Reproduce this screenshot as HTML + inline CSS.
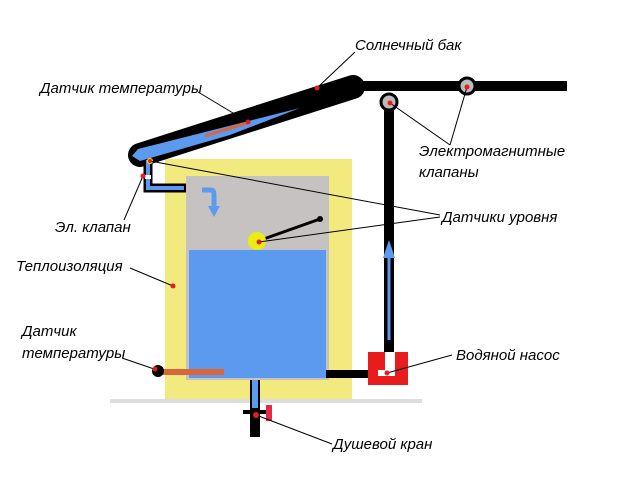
<!DOCTYPE html>
<html><head><meta charset="utf-8"><style>
html,body{margin:0;padding:0;background:#fff;}
svg{display:block;}
text{font-family:"Liberation Sans",sans-serif;font-style:italic;font-size:15px;fill:#000;}
</style></head><body>
<svg width="640" height="480" viewBox="0 0 640 480" xmlns="http://www.w3.org/2000/svg">
<rect x="110" y="399" width="312" height="4" fill="#ddd"/>
<rect x="165" y="159" width="187" height="240" fill="#f2ea7e"/>
<rect x="186" y="176" width="143" height="204" fill="#c7c2c2"/>
<rect x="189" y="250" width="137" height="128" fill="#5b9aee"/>
<!-- pipes -->
<rect x="355" y="81" width="212" height="10" fill="#000"/>
<rect x="384" y="95" width="10" height="282" fill="#000"/>
<rect x="326" y="370" width="46" height="8" fill="#000"/>
<line x1="389" y1="340" x2="389" y2="255" stroke="#5b9aee" stroke-width="3"/>
<polygon points="389,240 383,258 395,258" fill="#5b9aee"/>
<!-- pump -->
<rect x="368" y="352" width="40" height="33" fill="#e81c1c"/>
<rect x="385" y="352" width="10" height="24" fill="#fff"/>
<rect x="378" y="370" width="17" height="6" fill="#fff"/>
<!-- collector -->
<line x1="140" y1="155" x2="353" y2="87" stroke="#000" stroke-width="24" stroke-linecap="round"/>
<polygon points="138,149 300,108 230,135 140,161 132,156" fill="#5b9aee"/>
<line x1="205" y1="136" x2="247" y2="123" stroke="#d9653a" stroke-width="3"/>
<!-- valves -->
<circle cx="389" cy="102" r="8" fill="#bbb" stroke="#000" stroke-width="3"/>
<circle cx="467" cy="86" r="8" fill="#bbb" stroke="#000" stroke-width="3"/>
<!-- inlet L -->
<path d="M148,160 V188 H186" fill="none" stroke="#000" stroke-width="9"/>
<path d="M148,160 V188 H184" fill="none" stroke="#5b9aee" stroke-width="4"/>
<rect x="145" y="175" width="6" height="4" fill="#fff"/>
<path d="M202,190 H211 Q214,190 214,195 V208" fill="none" stroke="#5b9aee" stroke-width="5"/>
<polygon points="208,206 220,206 214,217" fill="#5b9aee"/>
<!-- level sensor -->
<line x1="258" y1="241" x2="320" y2="219" stroke="#000" stroke-width="3"/>
<circle cx="320" cy="219" r="3" fill="#000"/>
<circle cx="257" cy="241" r="9" fill="#ecec10"/>
<circle cx="150" cy="161" r="3" fill="#ecec10"/>
<!-- bottom -->
<rect x="163" y="369" width="61" height="6" fill="#d9653a"/>
<circle cx="158" cy="371" r="6" fill="#000"/>
<rect x="250" y="380" width="10" height="57" fill="#000"/>
<rect x="252" y="380" width="6" height="28" fill="#5b9aee"/>
<rect x="243" y="410" width="24" height="4" fill="#000"/>
<rect x="266" y="405" width="6" height="16" fill="#e8284a"/>
<!-- leaders -->
<g stroke="#000" stroke-width="1" fill="none">
<line x1="317" y1="88" x2="355" y2="52"/>
<line x1="248" y1="122" x2="198" y2="92"/>
<line x1="143" y1="176" x2="124" y2="220"/>
<line x1="150" y1="161" x2="440" y2="215"/>
<line x1="259" y1="242" x2="440" y2="217"/>
<line x1="390" y1="103" x2="450" y2="145"/>
<line x1="467" y1="87" x2="450" y2="145"/>
<line x1="173" y1="286" x2="130" y2="268"/>
<line x1="157" y1="370" x2="122" y2="358"/>
<line x1="387" y1="373" x2="452" y2="355"/>
<line x1="256" y1="415" x2="332" y2="444"/>
</g>
<g fill="#e81c1c">
<circle cx="317" cy="88" r="2.5"/><circle cx="248" cy="122" r="2.5"/>
<circle cx="143" cy="176" r="2.5"/><circle cx="150" cy="161" r="2"/>
<circle cx="259" cy="242" r="2.5"/><circle cx="390" cy="103" r="2.5"/>
<circle cx="467" cy="87" r="2.5"/><circle cx="173" cy="286" r="2.5"/>
<circle cx="155" cy="369" r="2.5"/><circle cx="387" cy="373" r="2.5"/>
<circle cx="256" cy="415" r="3"/>
</g>
<text x="355" y="50">Солнечный бак</text>
<text x="40" y="93">Датчик температуры</text>
<text x="419" y="156">Электромагнитные</text>
<text x="419" y="177">клапаны</text>
<text x="442" y="222">Датчики уровня</text>
<text x="55" y="232">Эл. клапан</text>
<text x="16" y="271">Теплоизоляция</text>
<text x="22" y="336">Датчик</text>
<text x="22" y="358">температуры</text>
<text x="456" y="360">Водяной насос</text>
<text x="333" y="449">Душевой кран</text>
</svg>
</body></html>
